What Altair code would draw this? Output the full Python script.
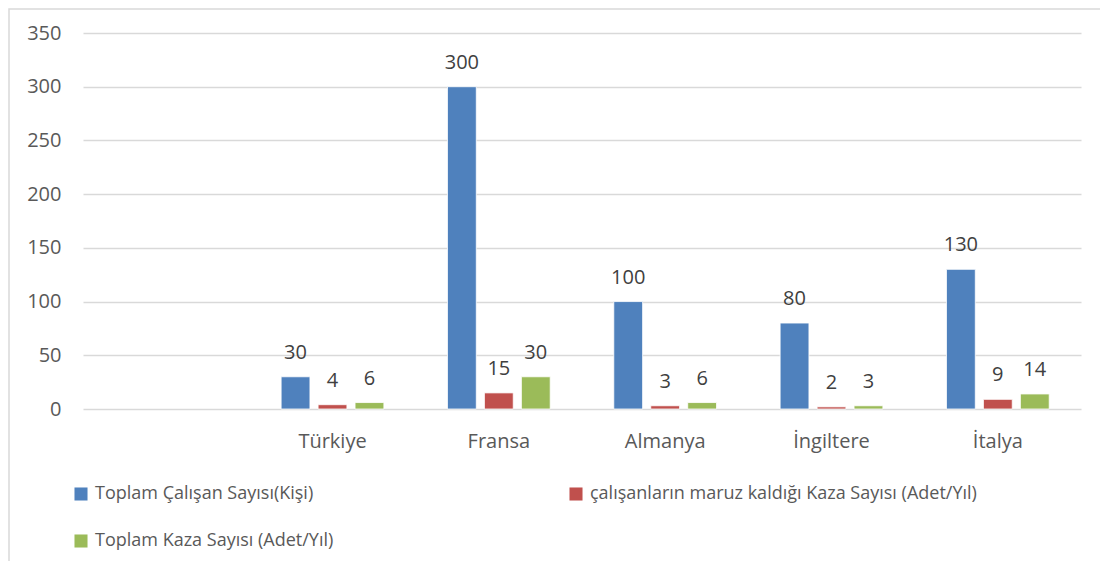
import altair as alt
import pandas as pd

categories = ["Türkiye", "Fransa", "Almanya", "İngiltere", "İtalya"]
series_names = [
    "Toplam Çalışan Sayısı(Kişi)",
    "çalışanların maruz kaldığı Kaza Sayısı (Adet/Yıl)",
    "Toplam Kaza Sayısı (Adet/Yıl)",
]
calisan = [30, 300, 100, 80, 130]
maruz_kaza = [4, 15, 3, 2, 9]
toplam_kaza = [6, 30, 6, 3, 14]
colors = ["#4F81BD", "#C0504D", "#9BBB59"]
y_ticks = [0, 50, 100, 150, 200, 250, 300, 350]

rows = []
for name, vals in zip(series_names, [calisan, maruz_kaza, toplam_kaza]):
    for c, v in zip(categories, vals):
        rows.append({"Ülke": c, "Seri": name, "Değer": v})
df = pd.DataFrame(rows)

x_domain = [" "] + categories
FONT = "Open Sans"
W, H = 998, 376

x_scale = alt.Scale(domain=x_domain, paddingInner=1 / 3, paddingOuter=1 / 6)
x_enc = alt.X(
    "Ülke:N",
    scale=x_scale,
    sort=x_domain,
    axis=alt.Axis(
        title=None, labelAngle=0, ticks=False, domain=False, grid=False,
        labelFontSize=20, labelColor="#595959", labelFont=FONT,
        labelPadding=38, labelBaseline="alphabetic",
    ),
)
xoff = alt.XOffset(
    "Seri:N",
    scale=alt.Scale(domain=series_names, paddingInner=0.22, paddingOuter=0.11),
    sort=series_names,
)
y_scale = alt.Scale(domain=[0, 350], nice=False)
y_enc = alt.Y(
    "Değer:Q",
    scale=y_scale,
    axis=alt.Axis(
        title=None, values=y_ticks, ticks=False, domain=False,
        grid=True, gridColor="#D9D9D9", gridWidth=1.4,
        labelFontSize=20, labelColor="#595959", labelFont=FONT,
        labelPadding=22,
    ),
)

base = alt.Chart(df)

bars = base.mark_bar(stroke="white", strokeWidth=0.8).encode(
    x=x_enc,
    xOffset=xoff,
    y=y_enc,
    color=alt.Color(
        "Seri:N",
        scale=alt.Scale(domain=series_names, range=colors),
        sort=series_names,
        legend=alt.Legend(
            title=None, orient="none", legendX=-11, legendY=452,
            values=series_names, direction="horizontal",
            columns=2, gridAlign="all", columnPadding=85, rowPadding=29,
            symbolType="square", symbolSize=170, symbolStrokeWidth=0,
            labelFontSize=18, labelColor="#595959", labelFont=FONT,
            labelOffset=5, labelLimit=600,
        ),
    ),
)

labels = base.mark_text(
    baseline="alphabetic", dy=-18, fontSize=20, color="#404040", font=FONT
).encode(
    x=alt.X("Ülke:N", scale=x_scale, sort=x_domain),
    xOffset=xoff,
    y=alt.Y("Değer:Q", scale=y_scale),
    text="Değer:Q",
)

frame = alt.Chart(pd.DataFrame({"a": [0]})).mark_rect(
    fill="transparent", stroke="#D9D9D9", strokeWidth=1.5
).encode(
    x=alt.value(-74), x2=alt.value(W + 40), y=alt.value(-24), y2=alt.value(H + 200)
)

chart = (
    alt.layer(frame, bars, labels)
    .properties(
        width=W, height=H,
        autosize=alt.AutoSizeParams(type="none"),
        padding={"left": 75, "top": 25, "right": 19, "bottom": 152},
    )
    .configure(font=FONT)
    .configure_view(strokeWidth=0, stroke="transparent")
)

chart.save("out.html", embed_options={"renderer": "svg", "actions": False})
